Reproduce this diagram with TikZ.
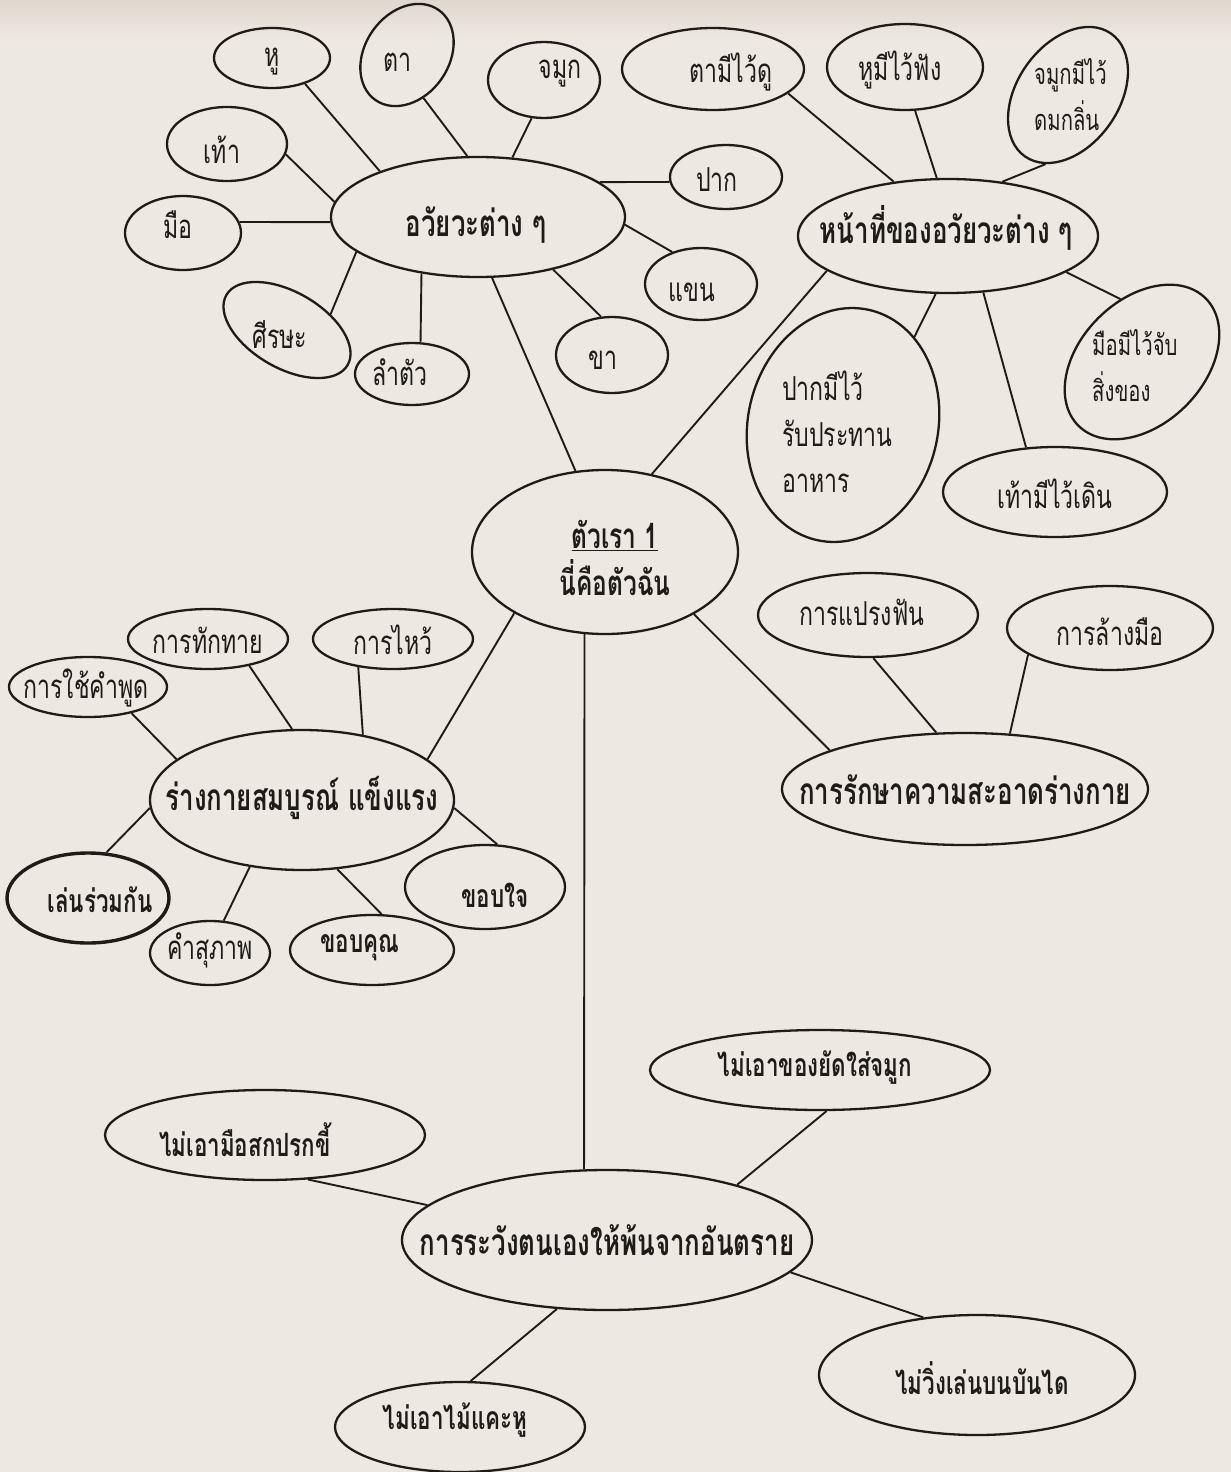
\documentclass[tikz,border=0pt]{standalone}
\usepackage{fontspec}
\newfontfamily\thai[Script=Thai, FakeStretch=0.7]{Loma}
\usetikzlibrary{shapes.geometric}
\definecolor{paper}{RGB}{237,232,225}
\definecolor{paperdark}{RGB}{222,216,206}
\definecolor{ink}{RGB}{30,27,25}
\tikzset{
  bub/.style={draw=ink, line width=2.3pt, ellipse, inner sep=0pt},
  con/.style={draw=ink, line width=1.9pt},
  lbl/.style={font=\thai\fontsize{33}{46}\selectfont, text=ink, inner sep=0pt, align=center},
  slbl/.style={lbl, font=\thai\fontsize{29}{46}\selectfont},
  blbl/.style={lbl, font=\thai\bfseries\fontsize{32}{46}\selectfont},
  mbl/.style={lbl, font=\thai\bfseries\fontsize{37}{47}\selectfont},
}
\newcommand\Bub[6]{\node[bub, minimum width=#4pt, minimum height=#5pt, rotate=#6] (#1) at (#2,#3) {};}
\begin{document}
\begin{tikzpicture}[x=1pt, y=-1pt]
\useasboundingbox (0,0) rectangle (1231,1472);
\fill[paper] (0,0) rectangle (1231,1472);
\shade[top color=paperdark, bottom color=paper] (0,0) rectangle (1231,40);

% ---------- bubbles ----------
\Bub{hu}{272}{58}{116}{60}{0}
\Bub{ta}{407}{55}{110}{84}{55}
\Bub{jamuk}{544}{80}{112}{76}{0}
\Bub{tao}{227}{144}{120}{74}{0}
\Bub{mue}{183}{233}{116}{74}{0}
\Bub{org}{478}{217}{294}{120}{0}
\Bub{sisa}{287}{330}{140}{76}{-30}
\Bub{lamtua}{412}{374}{114}{62}{0}
\Bub{kha}{612}{355}{112}{76}{0}
\Bub{khaen}{701}{284}{112}{72}{0}
\Bub{pak}{726}{177}{112}{64}{0}
\Bub{func}{948}{236}{300}{114}{0}
\Bub{tami}{713}{69}{182}{82}{0}
\Bub{humi}{905}{67}{156}{86}{0}
\Bub{jamukmi}{1068}{95}{150}{102}{55}
\Bub{muemi}{1142}{362}{180}{124}{45}
\Bub{pakmi}{843}{425}{190}{236}{-13}
\Bub{taomi}{1055}{492}{224}{90}{0}
\Bub{me}{605}{552}{266}{164}{0}
\Bub{thak}{208}{639}{160}{60}{0}
\Bub{wai}{393}{639}{160}{60}{0}
\Bub{chai}{88}{687}{158}{60}{0}
\Bub{body}{302}{800}{304}{140}{0}
\node[bub, line width=3.4pt, minimum width=162pt, minimum height=90pt] (len) at (88,898) {};
\Bub{suphap}{210}{953}{120}{64}{0}
\Bub{khobkhun}{372}{950}{164}{70}{0}
\Bub{khobjai}{485}{887}{160}{84}{0}
\Bub{praeng}{868}{615}{220}{84}{0}
\Bub{lang}{1110}{628}{206}{84}{0}
\Bub{clean}{965}{789}{366}{112}{0}
\Bub{yat}{820}{1070}{340}{80}{0}
\Bub{sok}{265}{1135}{320}{90}{0}
\Bub{safe}{607}{1240}{410}{140}{0}
\Bub{wing}{977}{1375}{316}{120}{0}
\Bub{khae}{460}{1427}{250}{90}{0}

% ---------- texts ----------
\node[lbl] (hu-t) at (272,62) {หู};
\node[lbl] (ta-t) at (397,62) {ตา};
\node[lbl] (jamuk-t) at (560,74) {จมูก};
\node[lbl] (tao-t) at (222,150) {เท้า};
\node[lbl] (mue-t) at (178,225) {มือ};
\node[mbl] (org-t) at (476,225) {อวัยวะต่าง ๆ};
\node[lbl] (sisa-t) at (280,335) {ศีรษะ};
\node[lbl] (lamtua-t) at (400,372) {ลำตัว};
\node[lbl] (kha-t) at (603,360) {ขา};
\node[lbl] (khaen-t) at (692,292) {แขน};
\node[lbl] (pak-t) at (717,180) {ปาก};
\node[mbl] (func-t) at (946,228) {หน้าที่ของอวัยวะต่าง ๆ};
\node[lbl] (tami-t) at (731,72) {ตามีไว้ดู};
\node[lbl] (humi-t) at (900,70) {หูมีไว้ฟัง};
\node[slbl, align=left, anchor=west] (jamukmi-t) at (1034,95) {จมูกมีไว้\\ดมกลิ่น};
\node[slbl, align=left, anchor=west] (muemi-t) at (1092,366) {มือมีไว้จับ\\สิ่งของ};
\node[lbl, align=left, anchor=west] (pakmi-t) at (782,432) {ปากมีไว้\\รับประทาน\\อาหาร};
\node[lbl] (taomi-t) at (1055,494) {เท้ามีไว้เดิน};
\node[blbl, font=\thai\bfseries\fontsize{35}{47}\selectfont] (me-t) at (615,558) {\underline{ตัวเรา 1}\\นี่คือตัวฉัน};
\node[lbl] (thak-t) at (208,640) {การทักทาย};
\node[lbl] (wai-t) at (393,640) {การไหว้};
\node[lbl] (chai-t) at (86,688) {การใช้คำพูด};
\node[mbl] (body-t) at (302,798) {ร่างกายสมบูรณ์ แข็งแรง};
\node[blbl] (len-t) at (100,900) {เล่นร่วมกัน};
\node[lbl] (suphap-t) at (210,950) {คำสุภาพ};
\node[blbl] (khobkhun-t) at (360,948) {ขอบคุณ};
\node[blbl] (khobjai-t) at (495,895) {ขอบใจ};
\node[lbl] (praeng-t) at (862,612) {การแปรงฟัน};
\node[lbl] (lang-t) at (1110,632) {การล้างมือ};
\node[mbl] (clean-t) at (965,790) {การรักษาความสะอาดร่างกาย};
\node[blbl] (yat-t) at (815,1068) {ไม่เอาของยัดใส่จมูก};
\node[blbl] (sok-t) at (245,1140) {ไม่เอามือสกปรกขี้};
\node[mbl] (safe-t) at (607,1240) {การระวังตนเองให้พ้นจากอันตราย};
\node[blbl] (wing-t) at (982,1378) {ไม่วิ่งเล่นบนบันได};
\node[blbl] (khae-t) at (455,1420) {ไม่เอาไม้แคะหู};

% ---------- connectors ----------
\draw[con] (hu.-38) -- (org.155);
\draw[con] (ta.-124) -- (org.100);
\draw[con] (jamuk.-108) -- (org.60);
\draw[con] (tao.-10) -- (org.174);
\draw[con] (mue.11) -- (org.-178);
\draw[con] (sisa.50) -- (org.-164);
\draw[con] (lamtua.75) -- (org.-135);
\draw[con] (kha.106) -- (org.-35);
\draw[con] (khaen.132) -- (org.-3);
\draw[con] (pak.-175) -- (org.16);
\draw[con] (org.-77) -- (me.110);
\draw[con] (tami.-18) -- (func.135);
\draw[con] (humi.-77) -- (func.101);
\draw[con] (jamukmi.-163) -- (func.45);
\draw[con] (muemi.64) -- (func.-17);
\draw[con] (taomi.123) -- (func.-58);
\draw[con] (pakmi.64) -- (func.-102);
\draw[con] (func.-164) -- (me.59);
\draw[con] (me.-146) -- (body.18);
\draw[con] (me.-35) -- (clean.164);
\draw[con] (me.-104) -- (safe.108);
\draw[con] (chai.-31) -- (body.162);
\draw[con] (thak.-33) -- (body.98);
\draw[con] (wai.-141) -- (body.47);
\draw[con] (body.-177) -- (len.68);
\draw[con] (body.-128) -- (suphap.67);
\draw[con] (body.-63) -- (khobkhun.75);
\draw[con] (body.-3) -- (khobjai.74);
\draw[con] (praeng.-83) -- (clean.117);
\draw[con] (lang.-162) -- (clean.51);
\draw[con] (sok.-46) -- (safe.169);
\draw[con] (yat.-81) -- (safe.23);
\draw[con] (safe.-10) -- (wing.133);
\draw[con] (safe.-126) -- (khae.77);
\end{tikzpicture}
\end{document}
